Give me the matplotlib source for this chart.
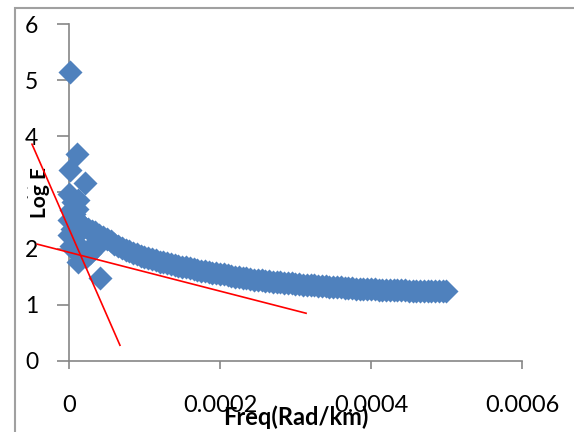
import matplotlib
matplotlib.use('Agg')
import matplotlib.pyplot as plt
import numpy as np
from matplotlib.patches import Rectangle

plt.rcParams['font.family'] = ['Lato', 'DejaVu Sans']

# main decaying band of points, freq in units of 1e-5 rad/km
band_freq_e5 = [2.0, 2.5, 3.0, 3.5, 4.0, 4.5, 5.0, 5.5, 6.0, 6.5,
                7.0, 7.5, 8.0, 8.5, 9.0, 9.5, 10.0, 10.5, 11.0, 11.5,
                12.0, 12.5, 13.0, 13.5, 14.0, 14.5, 15.0, 15.5, 16.0, 16.5,
                17.0, 17.5, 18.0, 18.5, 19.0, 19.5, 20.0, 20.5, 21.0, 21.5,
                22.0, 22.5, 23.0, 23.5, 24.0, 24.5, 25.0, 25.5, 26.0, 26.5,
                27.0, 27.5, 28.0, 28.5, 29.0, 29.5, 30.0, 30.5, 31.0, 31.5,
                32.0, 32.5, 33.0, 33.5, 34.0, 34.5, 35.0, 35.5, 36.0, 36.5,
                37.0, 37.5, 38.0, 38.5, 39.0, 39.5, 40.0, 40.5, 41.0, 41.5,
                42.0, 42.5, 43.0, 43.5, 44.0, 44.5, 45.0, 45.5, 46.0, 46.5,
                47.0, 47.5, 48.0, 48.5, 49.0, 49.5, 50.0]
band_loge = [2.38, 2.35, 2.32, 2.29, 2.25, 2.21, 2.17, 2.13, 2.09, 2.05,
             2.01, 1.98, 1.95, 1.92, 1.90, 1.87, 1.85, 1.83, 1.81, 1.79,
             1.77, 1.755, 1.74, 1.725, 1.71, 1.695, 1.68, 1.665, 1.65, 1.635,
             1.62, 1.61, 1.60, 1.585, 1.57, 1.56, 1.55, 1.54, 1.53, 1.515,
             1.50, 1.49, 1.48, 1.47, 1.46, 1.45, 1.44, 1.435, 1.43, 1.42,
             1.41, 1.405, 1.40, 1.395, 1.39, 1.38, 1.37, 1.365, 1.36, 1.355,
             1.35, 1.345, 1.34, 1.335, 1.33, 1.325, 1.32, 1.315, 1.31, 1.305,
             1.30, 1.295, 1.29, 1.29, 1.29, 1.285, 1.28, 1.275, 1.27, 1.27,
             1.27, 1.265, 1.26, 1.26, 1.26, 1.255, 1.25, 1.25, 1.25, 1.25,
             1.25, 1.245, 1.24, 1.24, 1.24, 1.24, 1.24]

# scattered points near zero frequency, freq in units of 1e-5 rad/km
low_freq_e5 = [0.1, 1.05, 0.1, 2.1, 0.0, 0.5, 1.2, 0.2, 0.6, 0.0,
               0.4, 0.9, 0.0, 0.9, 0.3, 1.5, 1.2, 2.5, 3.5, 4.1,
               1.8, 2.8, 0.8, 2.2, 0.8, 1.2, 1.5, 0.6, 1.0]
low_loge = [5.15, 3.68, 3.40, 3.17, 2.97, 2.83, 2.86, 2.68, 2.62, 2.51,
            2.35, 2.40, 2.24, 2.10, 2.05, 1.92, 1.76, 1.98, 2.02, 1.47,
            1.95, 1.93, 1.95, 1.85, 2.55, 2.30, 2.45, 2.20, 2.70]

# hand-drawn red trend lines (end points)
line1_x = [-0.000049, 0.0000675]
line1_y = [3.86, 0.28]
line2_x = [-0.000042, 0.000314]
line2_y = [2.08, 0.85]

xticks = [0, 0.0002, 0.0004, 0.0006]
xtick_labels = ['0', '0.0002', '0.0004', '0.0006']
yticks = [0, 1, 2, 3, 4, 5, 6]

fig = plt.figure(figsize=(5.74, 4.32), dpi=100)
ax = fig.add_axes([0.1202, 0.1644, 0.7892, 0.78])

blue = '#4F81BD'
ax.scatter(np.array(band_freq_e5) * 1e-5, band_loge, marker='D', s=150, color=blue,
           linewidths=0, zorder=3, clip_on=False)
ax.scatter(np.array(low_freq_e5) * 1e-5, low_loge, marker='D', s=150, color=blue,
           linewidths=0, zorder=3, clip_on=False)
ax.plot(line1_x, line1_y, color='#FF0000', lw=1.2, zorder=4, clip_on=False)
ax.plot(line2_x, line2_y, color='#FF0000', lw=1.2, zorder=4, clip_on=False)

ax.set_xlim(0, 0.0006)
ax.set_ylim(0, 6)
ax.set_xticks(xticks, xtick_labels)
ax.set_yticks(yticks)

for side in ['top', 'right']:
    ax.spines[side].set_visible(False)
for side in ['left', 'bottom']:
    ax.spines[side].set_color('#868686')
    ax.spines[side].set_linewidth(1.2)

ax.tick_params(axis='y', length=8.5, width=1.2, color='#868686', pad=13.5, labelsize=16.5)
ax.tick_params(axis='x', length=6, width=1.2, color='#868686', pad=18.5, labelsize=17)

ax.set_xlabel('Freq(Rad/km)', fontsize=17, fontweight='bold')
ax.xaxis.set_label_coords(0.5, -0.166)
ax.xaxis.label.set_verticalalignment('center')
ax.set_ylabel('Log E', fontsize=15, fontweight='bold',
              bbox=dict(facecolor='white', edgecolor='none', pad=1))
ax.yaxis.set_label_coords(-0.065, 0.5)
ax.yaxis.label.set_verticalalignment('center')

# outer chart frame (only top and left edges visible)
fig.add_artist(Rectangle((15 / 574, -0.2), 1.2, 1.2 - 8 / 432, transform=fig.transFigure,
                         facecolor='none', edgecolor='#A0A0A0', lw=1.5))

fig.savefig('out.png', dpi=100)
